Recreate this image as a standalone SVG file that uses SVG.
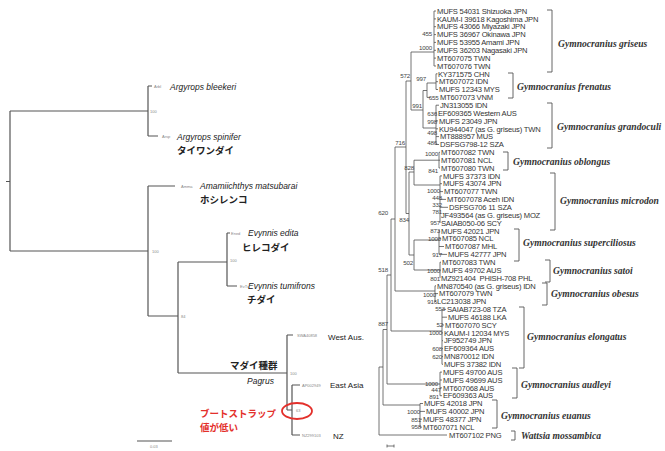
<svg xmlns="http://www.w3.org/2000/svg" width="665" height="451" viewBox="0 0 665 451">
<style>
.lt{fill:none;stroke:#555;stroke-width:1.2}
.rt{fill:none;stroke:#505050;stroke-width:0.8}
.bk{fill:none;stroke:#555;stroke-width:0.9}
.tl{font-family:"Liberation Sans",Arial,sans-serif;font-size:7.6px;letter-spacing:-0.2px;fill:#333}
.bs{font-family:"Liberation Sans",Arial,sans-serif;font-size:6.2px;letter-spacing:-0.2px;fill:#444;text-anchor:end}
.sp{font-family:"Liberation Serif","Times New Roman",serif;font-weight:bold;font-style:italic;font-size:9.6px;fill:#333}
.ln{font-family:"Liberation Sans",Arial,sans-serif;font-style:italic;font-size:8.5px;fill:#222}
.jp{font-family:"Noto Sans CJK JP",sans-serif;font-weight:bold;font-size:9.5px;fill:#222}
.red{font-family:"Noto Sans CJK JP",sans-serif;font-weight:bold;font-size:9.5px;fill:#e3302b}
.tiny{font-family:"Liberation Sans",Arial,sans-serif;font-size:4px;fill:#888}
.geo{font-family:"Liberation Sans",Arial,sans-serif;font-size:8px;fill:#222}
</style>
<rect width="665" height="451" fill="#fff"/>
<g id="connectors">
<path class="lt" d="M10,111V251M10,111H148M10,251H148M148,86V136M148,86H152M148,136H158M148,186V316M148,186H175M148,316H178M178,262V373M178,262H227M178,373H287M227,233V286M227,233H230M227,286H237M287,335V410M287,335H293M287,410H292M292,385V435M292,385H300M292,435H300M6,181.5H10"/>
<path class="lt" d="M137,441H172"/>
<path class="rt" d="M379,367V435H447M379,367H383M383,329.5V405M383,405H420M420,403.5V427.1M420,403.5H423M420,411.4H425M420,419.2H422M420,427.1H422M383,329.5H387M387,275V384M387,384H440M440,372.1V395.7M440,372.1H442M440,380H442M440,387.8H442M440,395.7H442M387,275H391M391,219V331M391,331H442M442,309.3V364.3M442,309.3H446M442,317.2H447M442,325H444M442,332.9H443M442,340.7H443M442,348.6H443M442,356.4H443M442,364.3H443M391,219H395M395,147V291M395,291H435M435,285.8V301.5M435,285.8H436M435,293.6H438M435,301.5H436M395,147H406M406,81V213.5M406,81H411M411,52V110M411,52H434M434,11V66M434,11H436M434,18.9H436M434,26.7H436M434,34.6H436M434,42.4H436M434,50.3H436M434,58.1H436M434,66H436M411,110H423M423,90.5V128M423,90.5H427M427,83V97.4M427,83H436M436,73.8V89.5M436,73.8H437.5M436,81.7H438M436,89.5H438M427,97.4H430M423,128H436M436,105.2V144.5M436,105.2H439M436,113.1H437M436,120.9H438M436,128.8H438M436,136.6H439M436,144.5H439M406,213.5H409M409,172V255M409,172H414M414,160.2V185M414,160.2H439M439,152.3V168M439,152.3H440M439,160.2H440M439,168H440M414,185H440M440,175.9V223M440,175.9H442M440,183.7H442M440,191.6H443M440,199.4H446M440,207.3H448M409,255H414M414,240V270M414,240H439M439,230.8V254.4M439,230.8H440M439,238.7H441M439,246.5H444M439,254.4H447M414,270H440M440,262.2V277.9M440,262.2H441M440,270.1H441M387,446H394M387,444.5V447.5M394,444.5V447.5"/>
</g>
<g id="left-tree">
<g id="n-arbl"><text class="tiny" x="154" y="87.5">Arbl</text><text class="ln" x="170" y="90">Argyrops bleekeri</text></g>
<text class="tiny" x="150" y="113">100</text>
<g id="n-arsp"><text class="tiny" x="162" y="138">Arsp</text><text class="ln" x="177" y="139.5">Argyrops spinifer</text><text class="jp" x="177" y="154">タイワンダイ</text></g>
<g id="n-amma"><text class="tiny" x="181" y="187.5">Amma</text><text class="ln" x="200" y="189">Amamiichthys matsubarai</text><text class="jp" x="200" y="203">ホシレンコ</text></g>
<text class="tiny" x="152" y="252.5">100</text>
<g id="n-ened"><text class="tiny" x="231" y="234.5">Ened</text><text class="ln" x="248" y="236">Evynnis edita</text><text class="jp" x="242" y="251">ヒレコダイ</text></g>
<text class="tiny" x="230" y="262">100</text>
<g id="n-evtu"><text class="tiny" x="240" y="287.5">EvTu</text><text class="ln" x="248" y="289">Evynnis tumifrons</text><text class="jp" x="247" y="303">チダイ</text></g>
<text class="tiny" x="181" y="318">84</text>
<g id="n-pagrus"><text class="jp" x="230" y="369">マダイ種群</text><text class="ln" x="247" y="384">Pagrus</text><text class="tiny" x="290" y="374.5">100</text></g>
<g id="n-swa"><text class="tiny" x="297" y="337">SWA40858</text><text class="geo" x="328" y="340">West Aus.</text></g>
<g id="n-ap"><text class="tiny" x="302" y="387">AP002949</text><text class="geo" x="330" y="388">East Asia</text></g>
<g id="n-nz"><text class="tiny" x="302" y="437">NZ299103</text><text class="geo" x="333" y="439">NZ</text></g>
<g id="n-note"><text class="tiny" x="296" y="412">63</text><ellipse cx="297" cy="411" rx="15" ry="8" fill="none" stroke="#e3302b" stroke-width="1.8"/><text class="red" x="200" y="417">ブートストラップ</text><text class="red" x="200" y="431">値が低い</text></g>
<text class="tiny" x="150" y="448">0.03</text>
</g>
<g id="right-tips">
<text class="tl" x="437" y="13.7">MUFS 54031 Shizuoka JPN</text>
<text class="tl" x="437" y="21.6">KAUM-I 39618 Kagoshima JPN</text>
<text class="tl" x="437" y="29.4">MUFS 43066 Miyazaki JPN</text>
<text class="tl" x="437" y="37.3">MUFS 36967 Okinawa JPN</text>
<text class="tl" x="437" y="45.1">MUFS 53955 Amami JPN</text>
<text class="tl" x="437" y="53">MUFS 36203 Nagasaki JPN</text>
<text class="tl" x="437" y="60.8">MT607075 TWN</text>
<text class="tl" x="437" y="68.7">MT607076 TWN</text>
<text class="tl" x="438" y="76.5">KY371575 CHN</text>
<text class="tl" x="439" y="84.4">MT607072 IDN</text>
<text class="tl" x="439" y="92.2">MUFS 12343 MYS</text>
<text class="tl" x="440" y="100.1">MT607073 VNM</text>
<text class="tl" x="440" y="107.9">JN313055 IDN</text>
<text class="tl" x="438" y="115.8">EF609365 Western AUS</text>
<text class="tl" x="439" y="123.6">MUFS 23049 JPN</text>
<text class="tl" x="439" y="131.5">KU944047 (as G. griseus) TWN</text>
<text class="tl" x="440" y="139.3">MT888957 MUS</text>
<text class="tl" x="440" y="147.2">DSFSG798-12 SZA</text>
<text class="tl" x="441" y="155">MT607082 TWN</text>
<text class="tl" x="441" y="162.9">MT607081 NCL</text>
<text class="tl" x="441" y="170.7">MT607080 TWN</text>
<text class="tl" x="443" y="178.6">MUFS 37373 IDN</text>
<text class="tl" x="443" y="186.4">MUFS 43074 JPN</text>
<text class="tl" x="444" y="194.3">MT607077 TWN</text>
<text class="tl" x="447" y="202.1">MT607078 Aceh IDN</text>
<text class="tl" x="449" y="210">DSFSG706 11 SZA</text>
<text class="tl" x="441" y="217.8">JF493564 (as G. griseus) MOZ</text>
<text class="tl" x="441" y="225.7">SAIAB050-06 SCY</text>
<text class="tl" x="441" y="233.5">MUFS 42021 JPN</text>
<text class="tl" x="442" y="241.4">MT607085 NCL</text>
<text class="tl" x="445" y="249.2">MT607087 MHL</text>
<text class="tl" x="448" y="257.1">MUFS 42777 JPN</text>
<text class="tl" x="442" y="264.9">MT607083 TWN</text>
<text class="tl" x="442" y="272.8">MUFS 49702 AUS</text>
<text class="tl" x="441" y="280.6">MZ921404&#160; PHISH-708 PHL</text>
<text class="tl" x="437" y="288.5">MN870540 (as G. griseus) IDN</text>
<text class="tl" x="439" y="296.3">MT607079 TWN</text>
<text class="tl" x="437" y="304.2">LC213038 JPN</text>
<text class="tl" x="447" y="312">SAIAB723-08 TZA</text>
<text class="tl" x="448" y="319.9">MUFS 46188 LKA</text>
<text class="tl" x="445" y="327.7">MT607070 SCY</text>
<text class="tl" x="444" y="335.6">KAUM-I 12034 MYS</text>
<text class="tl" x="444" y="343.4">JF952749 JPN</text>
<text class="tl" x="444" y="351.3">EF609364 AUS</text>
<text class="tl" x="444" y="359.1">MN870012 IDN</text>
<text class="tl" x="444" y="367">MUFS 37382 IDN</text>
<text class="tl" x="443" y="374.8">MUFS 49700 AUS</text>
<text class="tl" x="443" y="382.7">MUFS 49699 AUS</text>
<text class="tl" x="443" y="390.5">MT607068 AUS</text>
<text class="tl" x="443" y="398.4">EF609363 AUS</text>
<text class="tl" x="424" y="406.2">MUFS 42018 JPN</text>
<text class="tl" x="426" y="414.1">MUFS 40002 JPN</text>
<text class="tl" x="423" y="421.9">MUFS 48377 JPN</text>
<text class="tl" x="423" y="429.8">MT607071 NCL</text>
<text class="tl" x="449" y="437.6">MT607102 PNG</text>
</g>
<g id="bootstrap">
<text class="bs" x="432" y="36">455</text>
<text class="bs" x="432" y="50">1000</text>
<text class="bs" x="410" y="78">572</text>
<text class="bs" x="426" y="81">997</text>
<text class="bs" x="438.5" y="100">655</text>
<text class="bs" x="422" y="108">991</text>
<text class="bs" x="437" y="115.5">636</text>
<text class="bs" x="437" y="124">998</text>
<text class="bs" x="437" y="135">498</text>
<text class="bs" x="437" y="145">486</text>
<text class="bs" x="405" y="145">716</text>
<text class="bs" x="438" y="156">1000</text>
<text class="bs" x="414" y="170">828</text>
<text class="bs" x="438" y="173">841</text>
<text class="bs" x="440" y="193">1000</text>
<text class="bs" x="442" y="200">448</text>
<text class="bs" x="442" y="206.5">332</text>
<text class="bs" x="442" y="214">781</text>
<text class="bs" x="440" y="225">957</text>
<text class="bs" x="388" y="215">620</text>
<text class="bs" x="409" y="222">834</text>
<text class="bs" x="440" y="233">873</text>
<text class="bs" x="441" y="241">1000</text>
<text class="bs" x="442" y="257">917</text>
<text class="bs" x="413" y="264.5">502</text>
<text class="bs" x="388" y="272">518</text>
<text class="bs" x="440" y="273">1000</text>
<text class="bs" x="440" y="281">801</text>
<text class="bs" x="436" y="297">1000</text>
<text class="bs" x="437" y="304">916</text>
<text class="bs" x="388" y="326">887</text>
<text class="bs" x="445" y="311">553</text>
<text class="bs" x="443" y="327">52</text>
<text class="bs" x="442" y="335">1000</text>
<text class="bs" x="442" y="351">608</text>
<text class="bs" x="442" y="359">620</text>
<text class="bs" x="438" y="386">1000</text>
<text class="bs" x="441" y="392.3">447</text>
<text class="bs" x="439" y="398.6">891</text>
<text class="bs" x="420" y="414">1000</text>
<text class="bs" x="421" y="422">851</text>
<text class="bs" x="421" y="429">958</text>
</g>
<g id="species">
<g id="sp-griseus"><path class="bk" d="M547,10H552V72H547"/><text class="sp" x="558" y="47">Gymnocranius griseus</text></g>
<g id="sp-frenatus"><path class="bk" d="M508,73H513V98H508"/><text class="sp" x="517" y="90">Gymnocranius frenatus</text></g>
<g id="sp-grandoculi"><path class="bk" d="M547,103H552V148H547"/><text class="sp" x="557" y="130">Gymnocranius grandoculi</text></g>
<g id="sp-oblongus"><path class="bk" d="M503,152H508V170H503"/><text class="sp" x="513" y="165">Gymnocranius oblongus</text></g>
<g id="sp-microdon"><path class="bk" d="M550,173H555V230H550"/><text class="sp" x="560" y="204">Gymnocranius microdon</text></g>
<g id="sp-superciliosus"><path class="bk" d="M514,229H519V261H514"/><text class="sp" x="523" y="246">Gymnocranius superciliosus</text></g>
<g id="sp-satoi"><path class="bk" d="M545,260H550V282H545"/><text class="sp" x="553" y="274">Gymnocranius satoi</text></g>
<g id="sp-obesus"><path class="bk" d="M542,283H547V305H542"/><text class="sp" x="551" y="297">Gymnocranius obesus</text></g>
<g id="sp-elongatus"><path class="bk" d="M519,307H524V368H519"/><text class="sp" x="527" y="340">Gymnocranius elongatus</text></g>
<g id="sp-audleyi"><path class="bk" d="M512,368H517V398H512"/><text class="sp" x="521" y="388">Gymnocranius audleyi</text></g>
<g id="sp-euanus"><path class="bk" d="M492,400H497V428H492"/><text class="sp" x="501" y="419">Gymnocranius euanus</text></g>
<g id="sp-wattsia"><path class="bk" d="M511,431H515V440H511"/><text class="sp" x="521" y="439">Wattsia mossambica</text></g>
</g>
</svg>
